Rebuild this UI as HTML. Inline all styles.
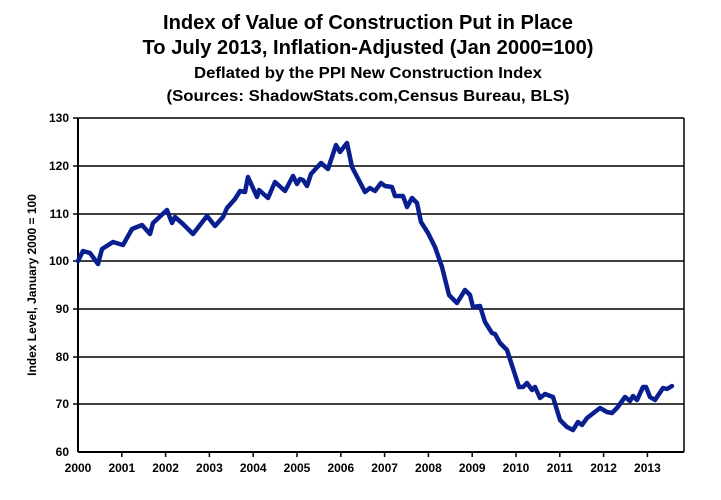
<!DOCTYPE html>
<html><head><style>html,body{margin:0;padding:0;background:#fff;}svg{display:block}</style></head>
<body>
<svg width="721" height="500" xmlns="http://www.w3.org/2000/svg" font-family="Liberation Sans, sans-serif" font-weight="bold">
<rect width="721" height="500" fill="#fff"/>
<text x="368" y="29" font-size="20" text-anchor="middle" textLength="410" lengthAdjust="spacingAndGlyphs">Index of Value of Construction Put in Place</text>
<text x="368" y="54" font-size="20" text-anchor="middle" textLength="451" lengthAdjust="spacingAndGlyphs">To July 2013, Inflation-Adjusted (Jan 2000=100)</text>
<text x="368" y="78" font-size="16" text-anchor="middle" textLength="348" lengthAdjust="spacingAndGlyphs">Deflated by the PPI New Construction Index</text>
<text x="368" y="101" font-size="16" text-anchor="middle" textLength="403" lengthAdjust="spacingAndGlyphs">(Sources: ShadowStats.com,Census Bureau, BLS)</text>
<g stroke="#000" stroke-width="1.5">
<line x1="78" y1="118" x2="684" y2="118"/>
<line x1="78" y1="166" x2="684" y2="166"/>
<line x1="78" y1="214" x2="684" y2="214"/>
<line x1="78" y1="261" x2="684" y2="261"/>
<line x1="78" y1="309" x2="684" y2="309"/>
<line x1="78" y1="357" x2="684" y2="357"/>
<line x1="78" y1="404" x2="684" y2="404"/>
<line x1="78" y1="452" x2="684" y2="452" stroke-width="2"/>
<line x1="78" y1="118" x2="78" y2="452" stroke-width="2"/>
<line x1="684" y1="118" x2="684" y2="452"/>
</g>
<g stroke="#000" stroke-width="1.5">
<line x1="121.8" y1="452" x2="121.8" y2="457"/><line x1="165.6" y1="452" x2="165.6" y2="457"/><line x1="209.4" y1="452" x2="209.4" y2="457"/><line x1="253.2" y1="452" x2="253.2" y2="457"/><line x1="297" y1="452" x2="297" y2="457"/><line x1="340.8" y1="452" x2="340.8" y2="457"/><line x1="384.6" y1="452" x2="384.6" y2="457"/><line x1="428.4" y1="452" x2="428.4" y2="457"/><line x1="472.2" y1="452" x2="472.2" y2="457"/><line x1="516" y1="452" x2="516" y2="457"/><line x1="559.8" y1="452" x2="559.8" y2="457"/><line x1="603.6" y1="452" x2="603.6" y2="457"/><line x1="647.4" y1="452" x2="647.4" y2="457"/>
<line x1="73" y1="118" x2="78" y2="118"/><line x1="73" y1="166" x2="78" y2="166"/><line x1="73" y1="214" x2="78" y2="214"/><line x1="73" y1="261" x2="78" y2="261"/><line x1="73" y1="309" x2="78" y2="309"/><line x1="73" y1="357" x2="78" y2="357"/><line x1="73" y1="404" x2="78" y2="404"/>
</g>
<g font-size="12" text-anchor="end">
<text x="69" y="122">130</text><text x="69" y="170">120</text><text x="69" y="218">110</text><text x="69" y="265">100</text><text x="69" y="313">90</text><text x="69" y="361">80</text><text x="69" y="408">70</text><text x="69" y="456">60</text>
</g>
<g font-size="12" text-anchor="middle">
<text x="78" y="472">2000</text><text x="121.8" y="472">2001</text><text x="165.6" y="472">2002</text><text x="209.4" y="472">2003</text><text x="253.2" y="472">2004</text><text x="297" y="472">2005</text><text x="340.8" y="472">2006</text><text x="384.6" y="472">2007</text><text x="428.4" y="472">2008</text><text x="472.2" y="472">2009</text><text x="516" y="472">2010</text><text x="559.8" y="472">2011</text><text x="603.6" y="472">2012</text><text x="647.4" y="472">2013</text>
</g>
<text transform="translate(36,285) rotate(-90)" font-size="12" text-anchor="middle">Index Level, January 2000 = 100</text>
<polyline fill="none" stroke="#0a1f8f" stroke-width="4.5" stroke-linejoin="round" stroke-linecap="round" points="
78,261 83,251 90,253 98,264 102,249 113,242 123,245 132,229 142,225 150,234 153,223 167,210 172,223 175,217 183,224 193,234 207,216 215,226 223,217 227,208 235,199 240,191 245,192 248,177 257,197 259,190 268,198 275,182 285,191 293,176 297,184 300,179 303,180 307,186 311,174 321,163 328,169 336,145 340,152 347,143 352,167 365,192 370,188 375,191 381,183 385,186 392,187 395,196 403,196 407,207 412,198 417,203 421,222 428,233 435,247 442,267 449,295 457,303 465,290 470,295 473,307 480,306 485,322 492,333 495,334 500,343 507,350 519,387 523,387 527,383 532,390 535,387 540,398 545,394 553,397 560,420 567,427 573,430 578,422 582,425 587,418 600,408 607,412 612,413 617,408 625,397 630,401 633,396 637,400 643,387 646,387 650,397 655,400 663,388 667,389 672,386"/>
</svg>
</body></html>
